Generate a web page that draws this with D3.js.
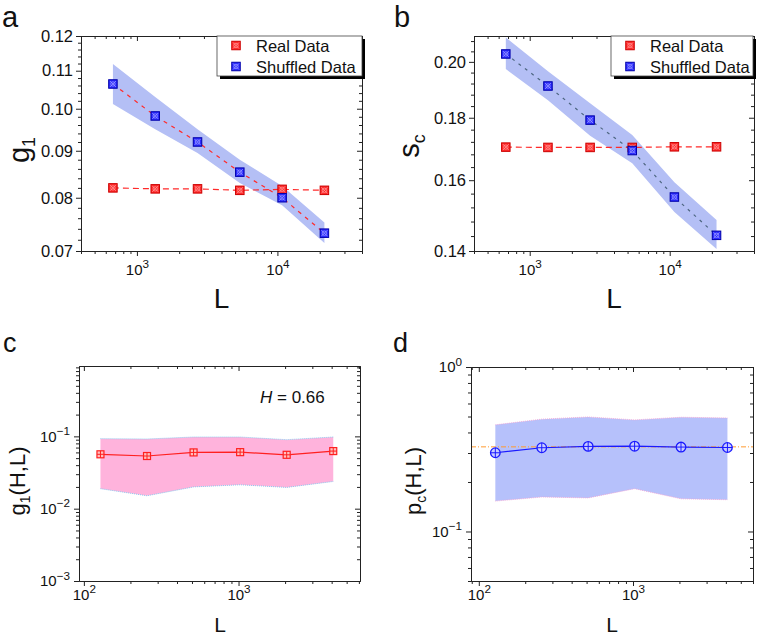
<!DOCTYPE html>
<html><head><meta charset="utf-8">
<script src="https://cdn.jsdelivr.net/npm/d3@7"></script>
<style>body{margin:0;background:#fff}svg{display:block}</style>
</head><body>
<svg id="chart" width="759" height="637"></svg>
<script>
// ---------- data ----------
const LA = [675, 1350, 2700, 5400, 10800, 21600];
const g1Real = [0.0820, 0.0818, 0.0818, 0.0815, 0.0817, 0.0815];
const g1Shuf = [0.1064, 0.0982, 0.0920, 0.0853, 0.0800, 0.0732];
const g1ShufHi = [0.1119, 0.1030, 0.0950, 0.0880, 0.0824, 0.0752];
const g1ShufLo = [0.1012, 0.0950, 0.0895, 0.0830, 0.0785, 0.0714];

const scReal = [0.1703, 0.1702, 0.1702, 0.1702, 0.1704, 0.1704];
const scShuf = [0.2030, 0.1911, 0.1792, 0.1692, 0.1550, 0.1442];
const scShufHi = [0.2094, 0.1965, 0.1850, 0.1742, 0.1594, 0.1484];
const scShufLo = [0.1973, 0.1860, 0.1740, 0.1652, 0.1507, 0.1405];

const LC = [128, 256, 512, 1024, 2048, 4096];
const g1H = [0.0565, 0.0535, 0.0600, 0.0605, 0.0556, 0.0626];
const g1HHi = [0.093, 0.092, 0.098, 0.098, 0.090, 0.098];
const g1HLo = [0.0189, 0.0151, 0.0200, 0.0214, 0.0197, 0.0238];

const pcH = [0.301, 0.323, 0.329, 0.330, 0.326, 0.324];
const pcHHi = [0.445, 0.482, 0.497, 0.477, 0.495, 0.490];
const pcHLo = [0.153, 0.162, 0.160, 0.182, 0.158, 0.156];
const pcRef = 0.327;

const legendLabels = ["Real Data", "Shuffled Data"];
const ticksA = [0.07, 0.08, 0.09, 0.10, 0.11, 0.12];
const ticksB = [0.14, 0.16, 0.18, 0.20];
const xTicksAB = [1e3, 1e4];
const xTicksCD = [1e2, 1e3];
const yTicksC = [1e-3, 1e-2, 1e-1];
const yTicksD = [1e-1, 1e0];
const hText = "0.66";

// ---------- helpers ----------
const FONT = "'Liberation Sans', Arial, Helvetica, sans-serif";
const svg = d3.select("#chart").attr("font-family", FONT);

function logMinors(dom) {
  const out = [];
  for (let e = -5; e <= 6; e++) for (let m = 2; m <= 9; m++) {
    const v = m * Math.pow(10, e);
    if (v >= dom[0] * 0.9999 && v <= dom[1] * 1.0001) out.push(v);
  }
  return out;
}
function linMinors(dom, step, majors) {
  const out = [];
  for (let v = dom[0]; v <= dom[1] + 1e-9; v += step) {
    const r = Math.round(v * 1e6) / 1e6;
    if (!majors.some(m => Math.abs(m - r) < 1e-7)) out.push(r);
  }
  return out;
}
function supText(sel, fs) {
  sel.each(function (d) {
    const t = d3.select(this);
    const e = Math.round(Math.log10(d));
    t.text(null);
    t.append("tspan").text("10");
    t.append("tspan").attr("dy", -fs * 0.45).attr("font-size", fs * 0.78).text(e < 0 ? "\u2212" + (-e) : String(e));
  });
}

function frame(g, x, y, o) {
  const [xl, xr] = x.range(), [yb, yt] = y.range();
  const stroke = "#222";
  function style(a) { a.selectAll("path.domain").attr("stroke", stroke).attr("stroke-width", 1); a.selectAll("line").attr("stroke", stroke).attr("stroke-width", 1); }
  let a = g.append("g").attr("transform", `translate(0,${yb})`)
    .call(d3.axisBottom(x).tickValues(o.xMinor).tickSize(3).tickSizeOuter(0).tickFormat(""));
  style(a);
  a = g.append("g").attr("transform", `translate(0,${yb})`)
    .call(d3.axisBottom(x).tickValues(o.xMajor).tickSize(5).tickSizeOuter(0).tickPadding(o.xPad));
  style(a);
  a.selectAll("text").attr("font-size", o.xFs).attr("fill", "#111").call(supText, o.xFs);
  a = g.append("g").attr("transform", `translate(0,${yt})`)
    .call(d3.axisTop(x).tickValues(o.xMinor).tickSize(-3).tickSizeOuter(0).tickFormat(""));
  style(a);
  a = g.append("g").attr("transform", `translate(0,${yt})`)
    .call(d3.axisTop(x).tickValues(o.xMajor).tickSize(-5).tickSizeOuter(0).tickFormat(""));
  style(a);
  a = g.append("g").attr("transform", `translate(${xl},0)`)
    .call(d3.axisLeft(y).tickValues(o.yMinor).tickSize(3).tickSizeOuter(0).tickFormat(""));
  style(a);
  a = g.append("g").attr("transform", `translate(${xl},0)`)
    .call(d3.axisLeft(y).tickValues(o.yMajor).tickSize(5).tickSizeOuter(0).tickPadding(o.yPad)
      .tickFormat(o.yFmt || null));
  style(a);
  a.selectAll("text").attr("font-size", o.yFs).attr("fill", "#111");
  if (o.yLog) a.selectAll("text").call(supText, o.yFs);
  a = g.append("g").attr("transform", `translate(${xr},0)`)
    .call(d3.axisRight(y).tickValues(o.yMinor).tickSize(-3).tickSizeOuter(0).tickFormat(""));
  style(a);
  a = g.append("g").attr("transform", `translate(${xr},0)`)
    .call(d3.axisRight(y).tickValues(o.yMajor).tickSize(-5).tickSizeOuter(0).tickFormat(""));
  style(a);
}

function sqMarker(g, cx, cy, fill, dark, light) {
  const s = 8.5;
  g.append("rect").attr("x", cx - s / 2).attr("y", cy - s / 2).attr("width", s).attr("height", s)
    .attr("fill", fill).attr("stroke", dark).attr("stroke-width", 1);
  g.append("path").attr("d", `M${cx - 3},${cy - 3}L${cx + 3},${cy + 3}M${cx + 3},${cy - 3}L${cx - 3},${cy + 3}`)
    .attr("stroke", light).attr("stroke-width", 0.8);
  g.append("circle").attr("cx", cx).attr("cy", cy).attr("r", 2.2).attr("fill", "none")
    .attr("stroke", light).attr("stroke-width", 0.7);
}

function legend(g, x0, y0, w) {
  g.append("rect").attr("x", x0 + 3).attr("y", y0 + 3).attr("width", w).attr("height", 40).attr("fill", "#000");
  g.append("rect").attr("x", x0).attr("y", y0).attr("width", w).attr("height", 40)
    .attr("fill", "#fff").attr("stroke", "#444").attr("stroke-width", 0.8);
  const cols = [["#ff2a2a", "#cc0000", "#ff9a9a"], ["#2a2aff", "#0000aa", "#a0a0ff"]];
  legendLabels.forEach((t, i) => {
    const cy = y0 + 9.5 + i * 21;
    sqMarker(g, x0 + 19, cy, ...cols[i]);
    g.append("text").attr("x", x0 + 39).attr("y", cy + 6).attr("font-size", 16.5).attr("fill", "#111").text(t);
  });
}

// ================= Panel a =================
{
  const g = svg.append("g");
  const x = d3.scaleLog().domain([400, 40000]).range([81, 362]);
  const y = d3.scaleLog().domain([0.07, 0.12]).range([251, 36]);
  const area = d3.area().x((d, i) => x(LA[i])).y0((d, i) => y(g1ShufLo[i])).y1((d, i) => y(g1ShufHi[i]));
  g.append("path").attr("d", area(LA)).attr("fill", "#b4bff5");
  const line = vals => d3.line().x((d, i) => x(LA[i])).y((d, i) => y(vals[i]))(LA);
  g.append("path").attr("d", line(g1Real)).attr("fill", "none").attr("stroke", "#ff2a2a").attr("stroke-width", 1.2).attr("stroke-dasharray", "6,4");
  g.append("path").attr("d", line(g1Shuf)).attr("fill", "none").attr("stroke", "#ff2a2a").attr("stroke-width", 1.2).attr("stroke-dasharray", "4,5");
  LA.forEach((L, i) => sqMarker(g, x(L), y(g1Real[i]), "#ff2a2a", "#cc0000", "#ff9a9a"));
  LA.forEach((L, i) => sqMarker(g, x(L), y(g1Shuf[i]), "#2a2aff", "#0000aa", "#a0a0ff"));
  frame(g, x, y, {
    xMajor: xTicksAB, xMinor: logMinors(x.domain()), xPad: 8, xFs: 15,
    yMajor: ticksA, yMinor: linMinors([0.07, 0.12], 0.002, ticksA), yPad: 3, yFs: 16.5, yFmt: d3.format(".2f")
  });
  legend(g, 217, 36, 145);
  g.append("text").attr("x", 2).attr("y", 27).attr("font-size", 29).attr("fill", "#111").text("a");
  g.append("text").attr("x", 221.5).attr("y", 308).attr("text-anchor", "middle").attr("font-size", 28).attr("fill", "#111").text("L");
  const yl = g.append("text").attr("transform", "translate(29,150) rotate(-90)").attr("text-anchor", "middle").attr("font-size", 29).attr("fill", "#111");
  yl.append("tspan").text("g");
  yl.append("tspan").attr("font-size", 18).attr("dy", 6).text("1");
}

// ================= Panel b =================
{
  const g = svg.append("g");
  const x = d3.scaleLog().domain([400, 40000]).range([474, 754]);
  const y = d3.scaleLog().domain([0.14, 0.21]).range([251, 36]);
  const area = d3.area().x((d, i) => x(LA[i])).y0((d, i) => y(scShufLo[i])).y1((d, i) => y(scShufHi[i]));
  g.append("path").attr("d", area(LA)).attr("fill", "#b4bff5");
  const line = vals => d3.line().x((d, i) => x(LA[i])).y((d, i) => y(vals[i]))(LA);
  g.append("path").attr("d", line(scReal)).attr("fill", "none").attr("stroke", "#ff2a2a").attr("stroke-width", 1.2).attr("stroke-dasharray", "6,4");
  g.append("path").attr("d", line(scShuf)).attr("fill", "none").attr("stroke", "#4d6680").attr("stroke-width", 1.2).attr("stroke-dasharray", "3,5");
  LA.forEach((L, i) => sqMarker(g, x(L), y(scReal[i]), "#ff2a2a", "#cc0000", "#ff9a9a"));
  LA.forEach((L, i) => sqMarker(g, x(L), y(scShuf[i]), "#2a2aff", "#0000aa", "#a0a0ff"));
  frame(g, x, y, {
    xMajor: xTicksAB, xMinor: logMinors(x.domain()), xPad: 8, xFs: 15,
    yMajor: ticksB, yMinor: linMinors([0.14, 0.21], 0.004, ticksB), yPad: 3, yFs: 16.5, yFmt: d3.format(".2f")
  });
  legend(g, 611, 36, 142);
  g.append("text").attr("x", 394).attr("y", 27).attr("font-size", 29).attr("fill", "#111").text("b");
  g.append("text").attr("x", 614).attr("y", 308).attr("text-anchor", "middle").attr("font-size", 28).attr("fill", "#111").text("L");
  const yl = g.append("text").attr("transform", "translate(419,146) rotate(-90)").attr("text-anchor", "middle").attr("font-size", 29).attr("fill", "#111");
  yl.append("tspan").text("s");
  yl.append("tspan").attr("font-size", 18).attr("dy", 6).text("c");
}

// ================= Panel c =================
{
  const g = svg.append("g");
  const x = d3.scaleLog().domain([93, 6100]).range([79, 360]);
  const y = d3.scaleLog().domain([0.001, 0.94]).range([581, 366]);
  const area = d3.area().x((d, i) => x(LC[i])).y0((d, i) => y(g1HLo[i])).y1((d, i) => y(g1HHi[i]));
  g.append("path").attr("d", area(LC)).attr("fill", "#ffb3dc");
  const edge = vals => d3.line().x((d, i) => x(LC[i])).y((d, i) => y(vals[i]))(LC);
  g.append("path").attr("d", edge(g1HHi)).attr("fill", "none").attr("stroke", "#7ec8f0").attr("stroke-width", 0.9).attr("stroke-dasharray", "1,1");
  g.append("path").attr("d", edge(g1HLo)).attr("fill", "none").attr("stroke", "#7ec8f0").attr("stroke-width", 0.9).attr("stroke-dasharray", "1,1");
  g.append("path").attr("d", edge(g1H)).attr("fill", "none").attr("stroke", "#ff2020").attr("stroke-width", 1.2);
  LC.forEach((L, i) => {
    const cx = x(L), cy = y(g1H[i]);
    g.append("rect").attr("x", cx - 3.5).attr("y", cy - 3.5).attr("width", 7).attr("height", 7)
      .attr("fill", "#ffc0c0").attr("stroke", "#ff2020").attr("stroke-width", 1.2);
    g.append("path").attr("d", `M${cx - 3.5},${cy}H${cx + 3.5}M${cx},${cy - 3.5}V${cy + 3.5}`).attr("stroke", "#ff2020").attr("stroke-width", 1);
  });
  frame(g, x, y, {
    xMajor: xTicksCD, xMinor: logMinors(x.domain()), xPad: 3, xFs: 15,
    yMajor: yTicksC, yMinor: logMinors(y.domain()), yPad: 4, yFs: 15, yLog: true
  });
  g.append("text").attr("x", 260).attr("y", 403).attr("font-size", 17).attr("fill", "#111")
    .call(t => { t.append("tspan").attr("font-style", "italic").text("H"); t.append("tspan").text(" = " + hText); });
  g.append("text").attr("x", 3).attr("y", 352).attr("font-size", 27).attr("fill", "#111").text("c");
  g.append("text").attr("x", 220).attr("y", 632).attr("text-anchor", "middle").attr("font-size", 21).attr("fill", "#111").text("L");
  const yl = g.append("text").attr("transform", "translate(25,481) rotate(-90)").attr("text-anchor", "middle").attr("font-size", 22).attr("fill", "#111");
  yl.append("tspan").text("g");
  yl.append("tspan").attr("font-size", 14).attr("dy", 5).text("1");
  yl.append("tspan").attr("dy", -5).text("(H,L)");
}

// ================= Panel d =================
{
  const g = svg.append("g");
  const x = d3.scaleLog().domain([89, 6000]).range([471, 753]);
  const y = d3.scaleLog().domain([0.05, 1]).range([581, 367]);
  const area = d3.area().x((d, i) => x(LC[i])).y0((d, i) => y(pcHLo[i])).y1((d, i) => y(pcHHi[i]));
  g.append("path").attr("d", area(LC)).attr("fill", "#b6c1fb");
  const edge = vals => d3.line().x((d, i) => x(LC[i])).y((d, i) => y(vals[i]))(LC);
  g.append("path").attr("d", edge(pcHHi)).attr("fill", "none").attr("stroke", "#f4a0d0").attr("stroke-width", 0.8).attr("stroke-dasharray", "1,1");
  g.append("path").attr("d", edge(pcHLo)).attr("fill", "none").attr("stroke", "#f4a0d0").attr("stroke-width", 0.8).attr("stroke-dasharray", "1,1");
  g.append("line").attr("x1", x.range()[0]).attr("x2", x.range()[1]).attr("y1", y(pcRef)).attr("y2", y(pcRef))
    .attr("stroke", "#ff9a30").attr("stroke-width", 1).attr("stroke-dasharray", "5,2,1,2");
  g.append("path").attr("d", edge(pcH)).attr("fill", "none").attr("stroke", "#1a1aff").attr("stroke-width", 1.2);
  LC.forEach((L, i) => {
    const cx = x(L), cy = y(pcH[i]);
    g.append("circle").attr("cx", cx).attr("cy", cy).attr("r", 4.8).attr("fill", "#c8ccff").attr("stroke", "#1a1aff").attr("stroke-width", 1.3);
    g.append("path").attr("d", `M${cx - 4.8},${cy}H${cx + 4.8}M${cx},${cy - 4.8}V${cy + 4.8}`).attr("stroke", "#1a1aff").attr("stroke-width", 1);
  });
  frame(g, x, y, {
    xMajor: xTicksCD, xMinor: logMinors(x.domain()), xPad: 3, xFs: 15,
    yMajor: yTicksD, yMinor: logMinors(y.domain()), yPad: 4, yFs: 15, yLog: true
  });
  g.append("text").attr("x", 393).attr("y", 352).attr("font-size", 27).attr("fill", "#111").text("d");
  g.append("text").attr("x", 612).attr("y", 632).attr("text-anchor", "middle").attr("font-size", 21).attr("fill", "#111").text("L");
  const yl = g.append("text").attr("transform", "translate(421,481) rotate(-90)").attr("text-anchor", "middle").attr("font-size", 22).attr("fill", "#111");
  yl.append("tspan").text("p");
  yl.append("tspan").attr("font-size", 14).attr("dy", 5).text("c");
  yl.append("tspan").attr("dy", -5).text("(H,L)");
}
</script>
</body></html>
